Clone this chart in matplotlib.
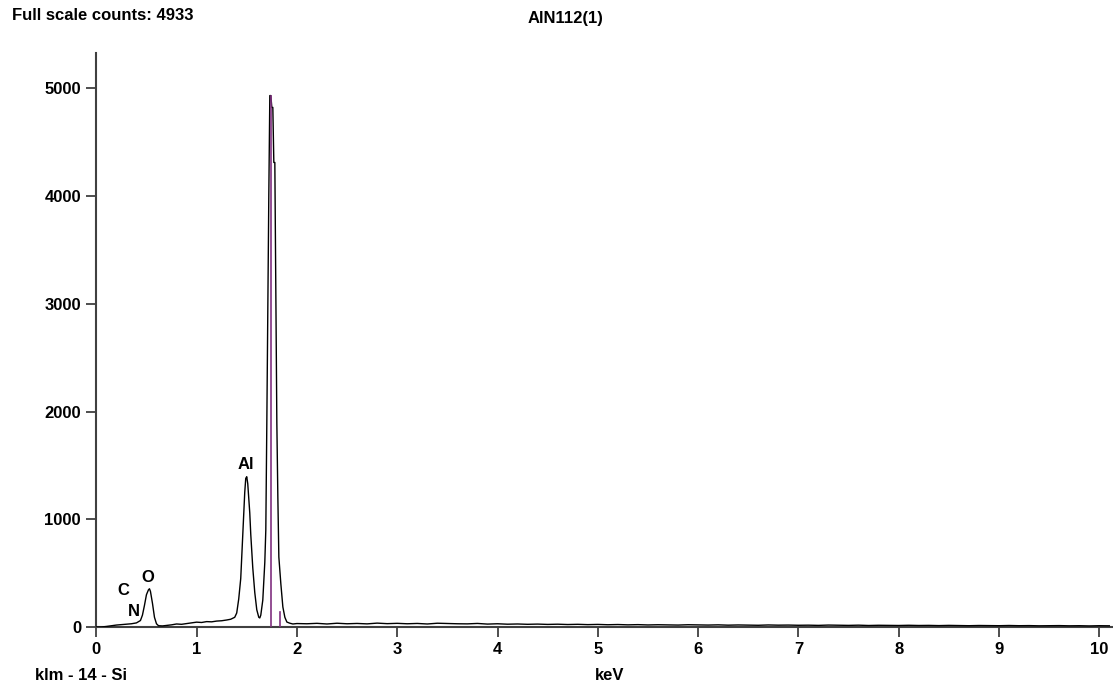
import matplotlib
matplotlib.use('Agg')
import matplotlib.pyplot as plt

# spectrum (keV, counts)
energy_low = [0.00, 0.05, 0.10, 0.15, 0.20, 0.25, 0.30, 0.35, 0.40, 0.44, 0.46, 0.48,
              0.50, 0.52, 0.53, 0.54, 0.56, 0.58, 0.60, 0.62, 0.66, 0.70, 0.75, 0.80,
              0.85, 0.90, 0.95, 1.00, 1.05, 1.10, 1.15, 1.20, 1.25, 1.30, 1.34, 1.38]
counts_low = [0, 0, 5, 12, 18, 22, 25, 30, 38, 60, 110, 200,
              300, 345, 355, 330, 220, 90, 30, 12, 10, 14, 20, 28,
              25, 32, 38, 45, 42, 50, 48, 55, 58, 65, 72, 90]

energy_peaks = [1.40, 1.42, 1.44, 1.46, 1.47, 1.48, 1.49, 1.50, 1.51, 1.52, 1.53, 1.54,
                1.55, 1.56, 1.58, 1.60, 1.62, 1.63, 1.64, 1.66, 1.68, 1.69, 1.70, 1.71,
                1.72, 1.73, 1.74, 1.75, 1.76, 1.77, 1.78, 1.79, 1.80, 1.81, 1.82, 1.84,
                1.86, 1.88, 1.90, 1.93, 1.96, 2.00]
counts_peaks = [130, 260, 450, 850, 1050, 1250, 1380, 1395, 1330, 1200, 1060, 860,
                700, 550, 320, 160, 90, 84, 110, 250, 600, 900, 1880, 2990,
                4015, 4933, 4933, 4823, 4823, 4312, 4312, 3104, 1896, 1208, 650, 400,
                186, 90, 46, 35, 28, 32]

energy_tail = [2.1 + 0.1 * i for i in range(81)]
counts_tail = [30, 34, 28, 35, 30, 33, 29, 36, 31, 34,
               30, 33, 28, 35, 32, 30, 29, 33, 27, 30,
               26, 28, 25, 27, 24, 26, 23, 25, 22, 24,
               21, 23, 20, 22, 19, 21, 20, 18, 21, 19,
               18, 20, 17, 19, 18, 16, 19, 17, 18, 16,
               17, 15, 18, 16, 15, 17, 14, 16, 15, 14,
               16, 14, 15, 13, 15, 14, 12, 14, 13, 12,
               14, 12, 13, 11, 12, 13, 11, 12, 10, 12, 11]

energy = energy_low + energy_peaks + energy_tail
counts = counts_low + counts_peaks + counts_tail

# KLM markers for Si
marker_e = [1.74, 1.836]
marker_h = [4933, 140]

labels = ['C', 'N', 'O', 'Al']
label_x = [0.266, 0.376, 0.516, 1.493]
label_y = [343, 148, 464, 1509]

xticks = list(range(11))
yticks = [0, 1000, 2000, 3000, 4000, 5000]

plt.rcParams['font.family'] = ['Liberation Sans', 'DejaVu Sans']
plt.rcParams['font.weight'] = 'bold'

fig = plt.figure(figsize=(11.13, 6.89), dpi=100)
ax = fig.add_axes([96.3 / 1113, 62 / 689, 1 - 96.3 / 1113, 574.3 / 689])

ax.plot(energy, counts, color='black', lw=1.0, zorder=3)
for e, h in zip(marker_e, marker_h):
    ax.plot([e, e], [0, h], color='#803080', lw=1.2, zorder=4)

for t, x, y in zip(labels, label_x, label_y):
    ax.text(x, y, t, ha='center', va='center', fontsize=12, fontweight='bold')

ax.set_xlim(0, (1113 - 96.3) / 100.3)
ax.set_ylim(0, 5331)
ax.set_xticks(xticks)
ax.set_yticks(yticks)
ax.tick_params(axis='both', direction='out', length=7, width=1.3, color='#404040',
               labelsize=12, pad=4)
for lab in ax.get_xticklabels() + ax.get_yticklabels():
    lab.set_fontweight('bold')
ax.spines['top'].set_visible(False)
ax.spines['right'].set_visible(False)
for s in ['left', 'bottom']:
    ax.spines[s].set_color('#404040')
    ax.spines[s].set_linewidth(1.5)

fig.text(12 / 1113, 1 - 16 / 689, 'Full scale counts: 4933', ha='left', va='center',
         fontsize=12, fontweight='bold')
fig.text(566 / 1113, 1 - 18 / 689, 'AlN112(1)', ha='center', va='center',
         fontsize=12, fontweight='bold')
fig.text(35 / 1113, 1 - 675 / 689, 'klm - 14 - Si', ha='left', va='center',
         fontsize=12, fontweight='bold')
fig.text(610 / 1113, 1 - 675 / 689, 'keV', ha='center', va='center',
         fontsize=12, fontweight='bold')

fig.savefig('out.png', dpi=100)
